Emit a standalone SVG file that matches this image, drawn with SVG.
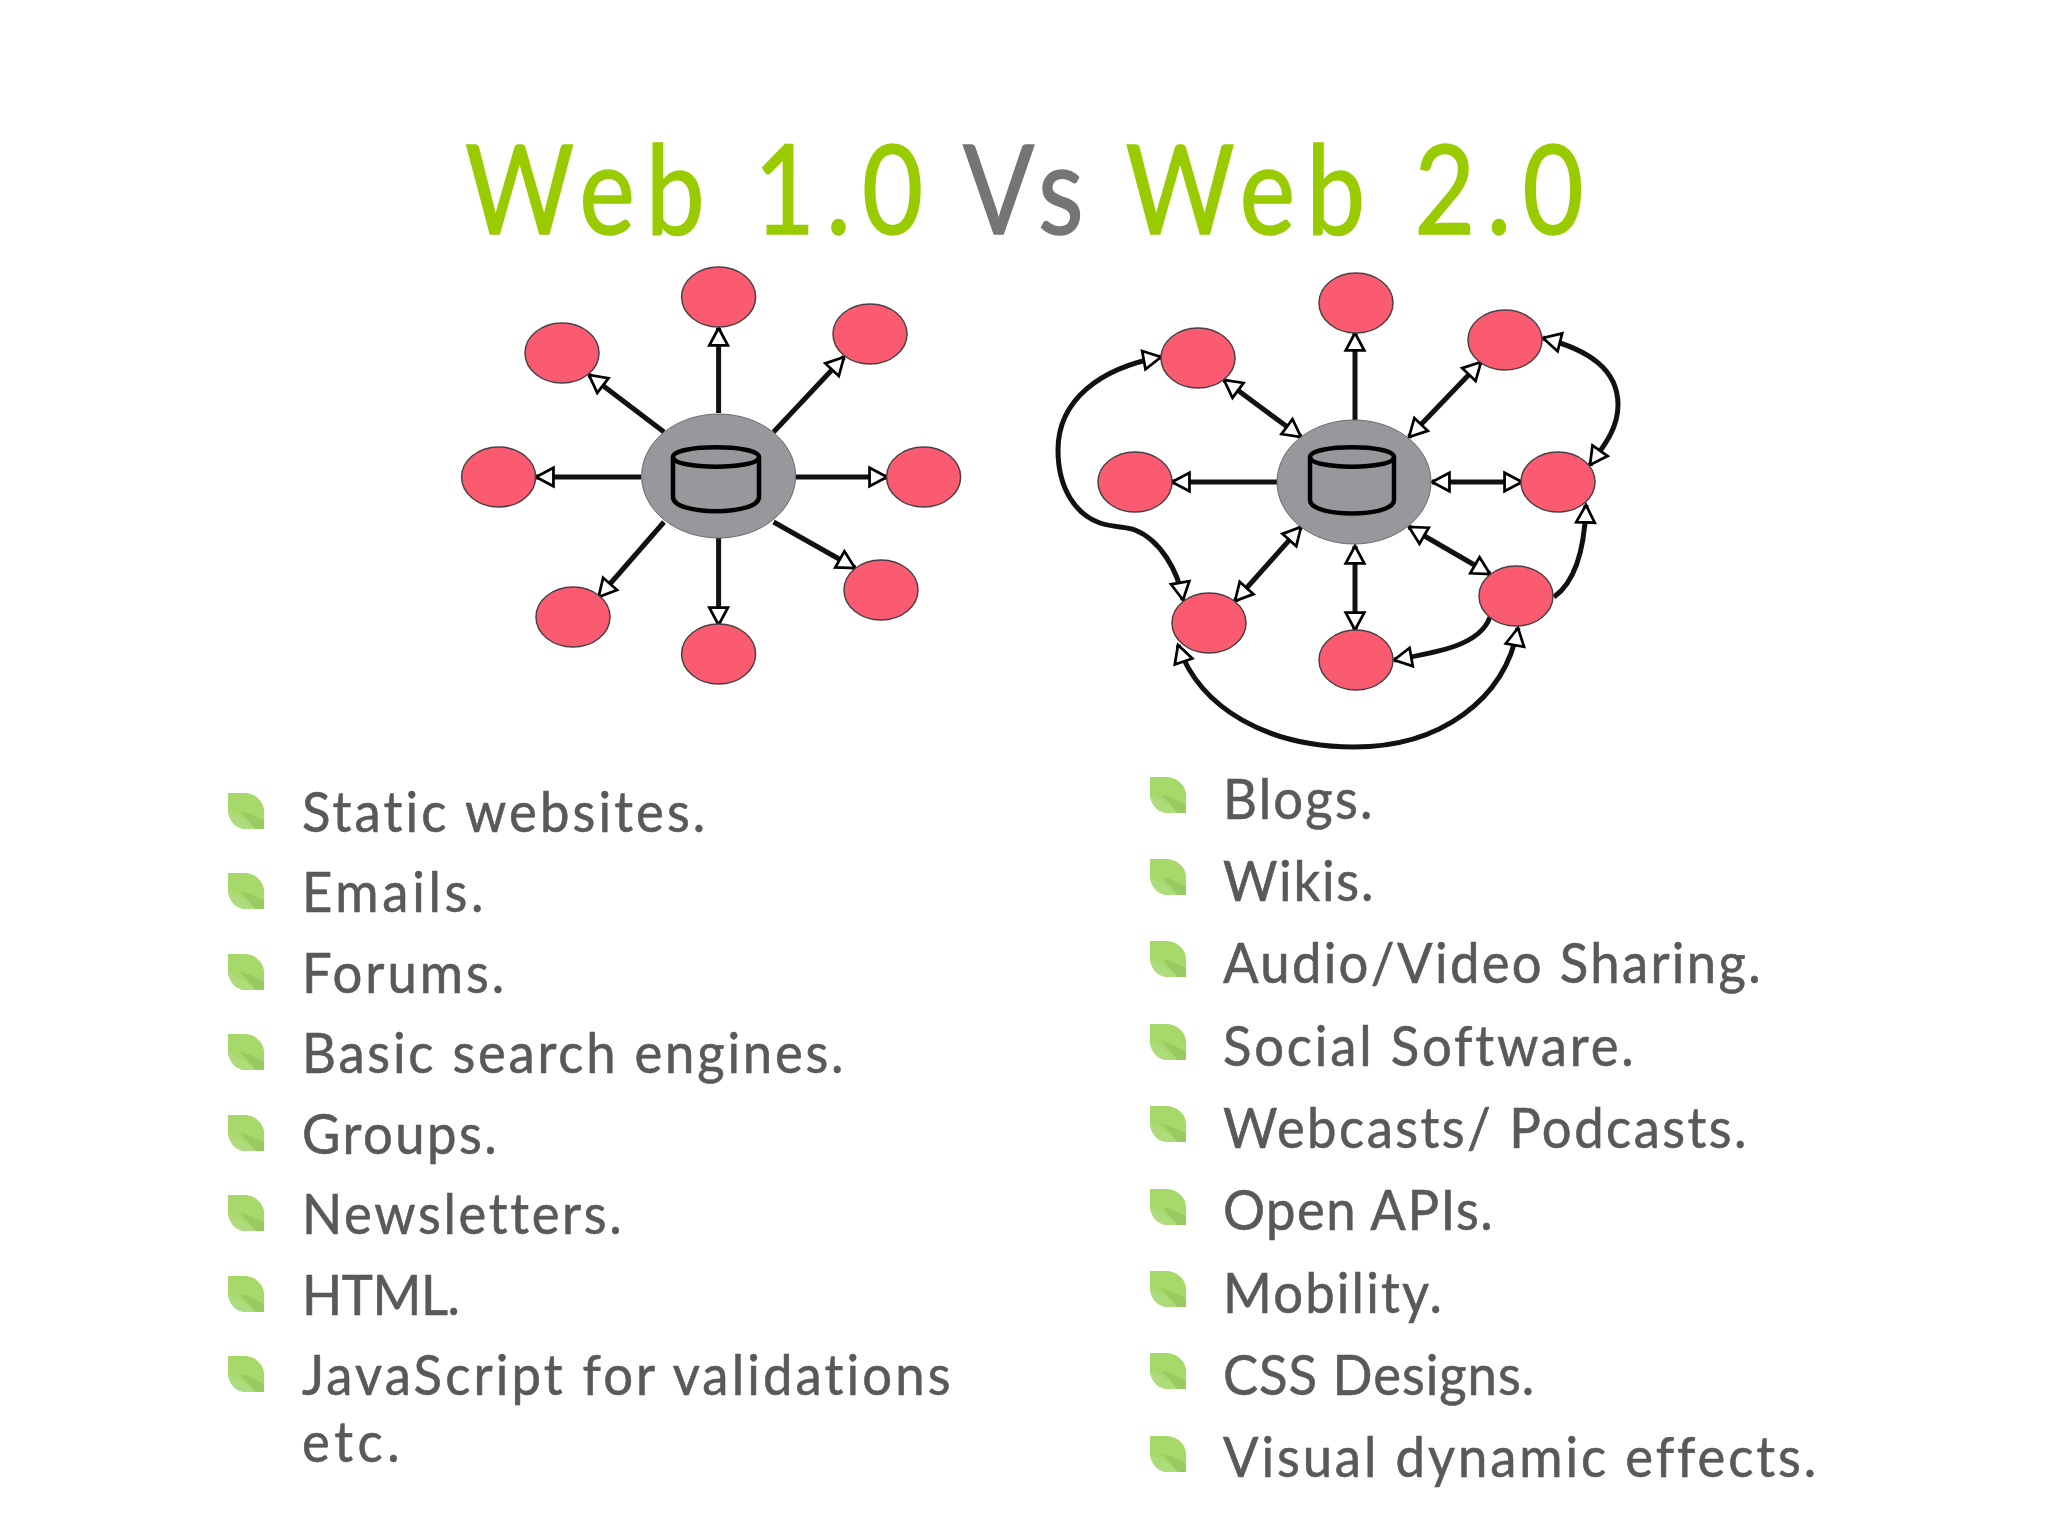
<svg xmlns="http://www.w3.org/2000/svg" width="2048" height="1536" viewBox="0 0 2048 1536">
<style>
.bg{fill:#fff}
text{font-variant-ligatures:none}
.t{font-family:"Lato","Liberation Sans",sans-serif;font-size:124px;stroke-width:1.5}
.g{fill:#99cc00;stroke:#99cc00}.v{fill:#757575;stroke:#757575}
.b{font-family:"Lato","Liberation Sans",sans-serif;font-size:56px;fill:#59595b;stroke:#59595b;stroke-width:.6}
.n{fill:#fb5b70;stroke:#4a4044;stroke-width:1.5}
.h{fill:#98979c;stroke:#6a6a6e;stroke-width:1}
.c{fill:none;stroke:#111;stroke-width:5}
.e{fill:none;stroke:#000;stroke-width:4.5;stroke-linecap:round}
.a{marker-end:url(#tri)}
.d{marker-start:url(#tri);marker-end:url(#tri)}
</style>
<defs>
<marker id="tri" markerUnits="userSpaceOnUse" markerWidth="24" markerHeight="24" viewBox="-2 -11 22 22" refX="16" refY="0" orient="auto-start-reverse" overflow="visible">
<path d="M0,-8.5 L16,0 L0,8.5 Z" fill="#fff" stroke="#000" stroke-width="2.5"/>
</marker>
<g id="leaf">
<path d="M0,0 H18 C28,1 36,9 36,18 V36 H18 C8,36 1,28 0,18 Z" fill="#a6d86a"/>
<path d="M0,18 C10,22 20,28 28,36 H18 C8,36 1,28 0,18 Z" fill="#aedb7c"/>
<path d="M12,18 C22,20 30,24 36,28 V36 H28 Z" fill="#98ca62"/>
</g>
</defs>
<rect class="bg" width="2048" height="1536"/>
<g id="title" transform="scale(.85,1)">
<text class="t g" x="547" y="234" textLength="539">Web 1.0</text>
<text class="t v" x="1133" y="234" textLength="142">Vs</text>
<text class="t g" x="1324" y="234" textLength="539">Web 2.0</text>
</g>
<g id="connectors">
<path class="c a" d="M718.6,413V328"/>
<path class="c a" d="M773.6,432L844,357"/>
<path class="c a" d="M796,477H887"/>
<path class="c a" d="M773.6,522L855,568"/>
<path class="c a" d="M718.6,538V625"/>
<path class="c a" d="M664,522L598.6,597"/>
<path class="c a" d="M641,477H536"/>
<path class="c a" d="M664,432L589,375"/>
<path class="c a" d="M1355,420V333"/>
<path class="c d" d="M1409,437L1481,362"/>
<path class="c d" d="M1432,482H1522"/>
<path class="c d" d="M1409,527L1490,574"/>
<path class="c d" d="M1355,546V630"/>
<path class="c d" d="M1301,527L1235,601"/>
<path class="c a" d="M1278,482H1172"/>
<path class="c d" d="M1301,437L1224,380"/>
<path class="c d" d="M1161,357C1100,368 1058,400 1058,450C1058,490 1077,515 1100,523C1115,528 1125,526 1135,530C1160,540 1178,570 1183,600"/>
<path class="c d" d="M1543,338C1590,350 1618,370 1618,405C1618,430 1602,448 1590,465"/>
<path class="c a" d="M1554,597C1578,580 1585,540 1586,505"/>
<path class="c a" d="M1490,617C1480,645 1440,652 1394,660"/>
<path class="c d" d="M1178,645C1200,710 1270,747 1354,747C1440,747 1505,700 1518,628"/>
</g>
<g id="web1-hub"><ellipse class="h" cx="718.6" cy="476" rx="77" ry="62"/><path class="e" d="M673,457C673,444 759,444 759,457C759,470 673,470 673,457V497C673,516 759,516 759,497V457"/></g>
<g id="web1-n1"><ellipse class="n" cx="718.6" cy="297" rx="37" ry="30"/></g>
<g id="web1-n2"><ellipse class="n" cx="870" cy="334" rx="37" ry="30"/></g>
<g id="web1-n3"><ellipse class="n" cx="923.6" cy="477" rx="37" ry="30"/></g>
<g id="web1-n4"><ellipse class="n" cx="881" cy="590" rx="37" ry="30"/></g>
<g id="web1-n5"><ellipse class="n" cx="718.6" cy="654" rx="37" ry="30"/></g>
<g id="web1-n6"><ellipse class="n" cx="573" cy="617" rx="37" ry="30"/></g>
<g id="web1-n7"><ellipse class="n" cx="498.6" cy="477" rx="37" ry="30"/></g>
<g id="web1-n8"><ellipse class="n" cx="562" cy="353" rx="37" ry="30"/></g>
<g id="web2-hub"><ellipse class="h" cx="1354" cy="482" rx="77" ry="62"/><path class="e" d="M1310,457C1310,444 1394,444 1394,457C1394,470 1310,470 1310,457V500C1310,518 1394,518 1394,500V457"/></g>
<g id="web2-n1"><ellipse class="n" cx="1356" cy="303" rx="37" ry="30"/></g>
<g id="web2-n2"><ellipse class="n" cx="1505" cy="340" rx="37" ry="30"/></g>
<g id="web2-n3"><ellipse class="n" cx="1558" cy="482" rx="37" ry="30"/></g>
<g id="web2-n4"><ellipse class="n" cx="1516" cy="596" rx="37" ry="30"/></g>
<g id="web2-n5"><ellipse class="n" cx="1356" cy="660" rx="37" ry="30"/></g>
<g id="web2-n6"><ellipse class="n" cx="1209" cy="623" rx="37" ry="30"/></g>
<g id="web2-n7"><ellipse class="n" cx="1135" cy="482" rx="37" ry="30"/></g>
<g id="web2-n8"><ellipse class="n" cx="1198" cy="358" rx="37" ry="30"/></g>
<g id="web1-list">
<use href="#leaf" x="228" y="793"/><use href="#leaf" x="228" y="873"/><use href="#leaf" x="228" y="954"/><use href="#leaf" x="228" y="1034"/><use href="#leaf" x="228" y="1115"/><use href="#leaf" x="228" y="1195"/><use href="#leaf" x="228" y="1276"/><use href="#leaf" x="228" y="1356"/>
<g transform="scale(.94,1)">
<text class="b" x="321.3" y="832" textLength="429">Static websites.</text>
<text class="b" x="321.3" y="912" textLength="193">Emails.</text>
<text class="b" x="321.3" y="993" textLength="215">Forums.</text>
<text class="b" x="321.3" y="1073" textLength="576">Basic search engines.</text>
<text class="b" x="321.3" y="1154" textLength="207">Groups.</text>
<text class="b" x="321.3" y="1234" textLength="340">Newsletters.</text>
<text class="b" x="321.3" y="1315" textLength="168">HTML.</text>
<text class="b" x="321.3" y="1395" textLength="690">JavaScript for validations</text>
<text class="b" x="321.3" y="1462" textLength="104">etc.</text>
</g>
</g>
<g id="web2-list">
<use href="#leaf" x="1150" y="777"/><use href="#leaf" x="1150" y="859"/><use href="#leaf" x="1150" y="941"/><use href="#leaf" x="1150" y="1024"/><use href="#leaf" x="1150" y="1106"/><use href="#leaf" x="1150" y="1189"/><use href="#leaf" x="1150" y="1271"/><use href="#leaf" x="1150" y="1353"/><use href="#leaf" x="1150" y="1436"/>
<g transform="scale(.94,1)">
<text class="b" x="1301" y="819" textLength="159">Blogs.</text>
<text class="b" x="1301" y="901" textLength="160">Wikis.</text>
<text class="b" x="1301" y="983" textLength="572">Audio/Video Sharing.</text>
<text class="b" x="1301" y="1066" textLength="437">Social Software.</text>
<text class="b" x="1301" y="1148" textLength="557">Webcasts/ Podcasts.</text>
<text class="b" x="1301" y="1230" textLength="287">Open APIs.</text>
<text class="b" x="1301" y="1313" textLength="233">Mobility.</text>
<text class="b" x="1301" y="1395" textLength="331">CSS Designs.</text>
<text class="b" x="1301" y="1477" textLength="631">Visual dynamic effects.</text>
</g>
</g>
</svg>
